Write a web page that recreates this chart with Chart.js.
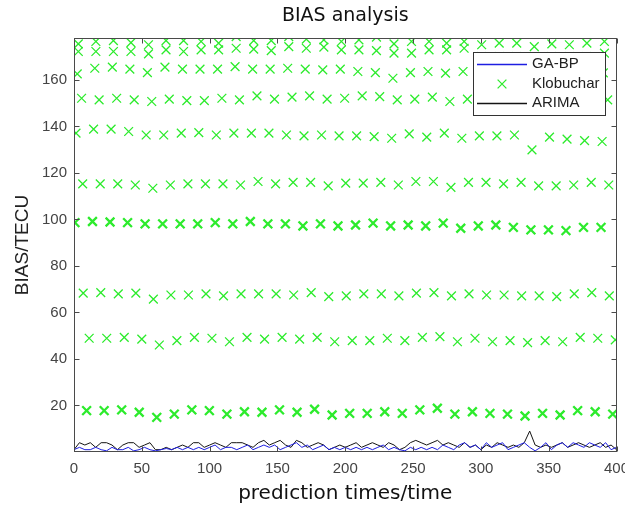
<!DOCTYPE html>
<html>
<head>
<meta charset="utf-8">
<title>BIAS analysis</title>
<script src="https://cdn.jsdelivr.net/npm/chart.js@4"></script>
<style>
  html, body { margin: 0; padding: 0; background: #fff; }
  canvas { display: block; }
</style>
</head>
<body>
<canvas id="chart" width="625" height="511"></canvas>
<script>
// axis ticks
const xTicks = [0, 50, 100, 150, 200, 250, 300, 350, 400];
const yTicks = [20, 40, 60, 80, 100, 120, 140, 160];

// GA-BP and ARIMA, one value every 4 prediction times (0..400)
const lineStep = 4;
const gabpValues = [
  1, 2, 1, 1, 2, 1, 0.5, 2, 1, 1, 2, 0.5, 1, 2, 1, 0.5,
  1, 1.5, 1, 2, 1, 2, 1, 2, 1, 2, 3, 1, 2, 2, 1,
  2, 3, 1, 2, 3, 2, 3, 1, 2, 3, 4, 2, 3, 1, 2, 3, 1, 2, 1, 2,
  1, 2, 1, 2, 1, 2, 3, 1, 2, 1, 0.5, 2, 1, 2, 1,
  2, 1, 3, 2, 1, 3, 4, 2, 3, 1, 4, 2, 3, 4, 1,
  2, 3, 4, 2, 0.5, 2, 4, 1, 3, 4, 2, 4, 3, 2, 4, 3, 2, 4, 1, 2
];
const arimaValues = [
  1, 4, 3, 4, 2, 4, 4, 3, 1, 3, 4, 4, 2, 3, 4, 1,
  1, 2, 1, 2, 3, 2, 4, 4, 2, 3, 4, 3, 2, 4, 4,
  4, 3, 2, 4, 5, 3, 4, 5, 3, 2, 5, 4, 2, 3, 4, 3, 1, 2, 3, 2,
  3, 4, 2, 3, 4, 3, 2, 4, 3, 1, 2, 4, 5, 4, 3,
  4, 5, 3, 4, 3, 2, 4, 2, 3, 1, 3, 2, 4, 3, 2,
  3, 2, 4, 9, 3, 2, 3, 2, 3, 4, 2, 3, 4, 3, 2, 3, 4, 2, 3, 1
];

// Klobuchar markers, one row per band, spaced klobStep apart from each row's start
const klobStep = 12.93;
const klobStarts = [9.3, 11.2, 6.8, 0.7, 6.4, 1.5, 5.6, 2.4, 3.2, 3.2];
const klobRow17 = [17.8, 17.8, 18.1, 17.1, 14.9, 16.3, 18.1, 17.8, 16.3, 17.3, 17.1, 18.1, 17.1, 18.4, 15.9,
  16.6, 16.6, 17.3, 16.6, 18.1, 18.8, 16.3, 17.3, 16.6, 16.3, 15.5, 16.6, 15.9, 17.8, 17.3, 16.3];
const klobRow48 = [48.9, 48.9, 49.3, 48.5, 46.0, 47.9, 49.3, 48.9, 47.4, 49.3, 48.5, 49.3, 48.5, 49.3, 47.4,
  47.9, 47.9, 48.9, 47.9, 49.3, 49.6, 47.4, 48.9, 47.4, 47.9, 47.0, 47.9, 47.4, 49.3, 48.9, 48.2];
const klobRow67 = [68.3, 68.5, 68.0, 68.3, 65.7, 67.5, 67.5, 68.0, 67.1, 68.0, 68.0, 68.0, 67.5, 68.5, 66.8,
  67.1, 68.0, 68.0, 67.1, 68.3, 68.5, 67.1, 68.0, 67.5, 67.5, 67.1, 67.1, 66.8, 68.0, 68.5, 67.1];
const klobRow98 = [98.6, 99.1, 98.9, 98.6, 98.1, 98.1, 98.1, 98.1, 98.6, 98.1, 99.1, 98.1, 98.1, 97.2, 98.1, 97.2,
  97.6, 98.4, 97.2, 97.6, 97.2, 98.4, 96.2, 97.2, 97.6, 96.6, 95.5, 95.5, 95.2, 96.6, 96.6];
const klobRow115 = [115.3, 115.3, 115.3, 114.8, 113.4, 114.8, 115.3, 115.3, 115.3, 114.8, 116.3, 115.3, 115.9, 115.9, 114.4,
  115.6, 115.6, 115.9, 114.8, 116.3, 116.3, 113.8, 115.9, 115.9, 115.3, 115.9, 114.4, 114.4, 114.8, 115.9, 114.8];
const klobRow137 = [137.1, 138.8, 138.8, 137.8, 136.3, 136.3, 137.1, 137.3, 136.3, 137.1, 137.1, 137.1, 136.3, 135.9, 136.3, 135.9,
  135.9, 135.6, 134.9, 136.8, 135.4, 137.1, 134.9, 135.9, 135.9, 136.3, 129.9, 135.4, 134.5, 133.9, 133.5];
const klobRow151 = [152.1, 151.4, 152.1, 151.4, 150.7, 151.7, 151.1, 151.1, 152.1, 151.4, 153.1, 151.7, 152.6, 153.1, 151.7,
  152.1, 153.1, 152.8, 151.4, 151.7, 152.6, 150.7, 151.7, 152.0, 151.2, 151.8, 151.0, 152.2, 151.3, 151.9, 151.4];
const klobRow164 = [162.6, 165.0, 165.5, 164.6, 163.1, 165.5, 164.6, 164.6, 164.6, 165.7, 164.6, 164.6, 165.0, 164.6, 164.3, 164.6,
  163.6, 163.1, 160.7, 163.1, 163.6, 162.9, 163.6, 163.5, 164.0, 163.0, 164.0, 163.5, 163.0, 164.0, 163.0];
const klobRow172 = [172.2, 172.2, 172.2, 172.2, 171.2, 172.9, 172.2, 172.9, 172.9, 173.6, 173.2, 172.6, 174.3, 173.6, 174.1,
  172.9, 172.9, 172.6, 171.5, 171.5, 172.9, 172.9, 173.6, 170.0, 170.0, 170.0, 170.0, 170.0, 170.0, 170.0, 171.5];
const klobRow176 = [175.5, 176.5, 176.9, 176.0, 175.1, 176.9, 176.9, 176.5, 175.8, 178.6, 176.9, 176.9, 178.6, 177.5, 177.2,
  176.5, 177.2, 178.4, 175.5, 176.5, 176.5, 175.8, 176.5, 175.1, 175.8, 175.8, 174.3, 175.5, 175.1, 175.8, 176.5];
const klobRows = [klobRow17, klobRow48, klobRow67, klobRow98, klobRow115, klobRow137, klobRow151, klobRow164, klobRow172, klobRow176];
const klobBoldRows = [0, 3];

const GREEN = 'rgb(45,235,45)';
const BLUE = 'rgb(30,30,225)';
const BLACK = '#141414';

const linePoints = (vals) => vals.map((v, i) => ({ x: i * lineStep, y: v }));

const klobDatasets = klobRows.map((row, r) => ({
  label: 'Klobuchar',
  data: row.map((v, k) => ({ x: klobStarts[r] + k * klobStep, y: v })),
  showLine: false,
  pointStyle: 'crossRot',
  pointRadius: 6.2,
  pointHoverRadius: 6.2,
  pointBorderColor: GREEN,
  pointBackgroundColor: 'rgba(0,0,0,0)',
  pointBorderWidth: klobBoldRows.includes(r) ? 2.3 : 1.3,
  clip: 0
}));

const framePlugin = {
  id: 'frame',
  beforeDraw(chart) {
    const ctx = chart.ctx;
    ctx.save();
    ctx.fillStyle = '#fff';
    ctx.fillRect(0, 0, chart.width, chart.height);
    ctx.restore();
  },
  afterDatasetsDraw(chart) {
    const { ctx, chartArea: a, scales } = chart;
    const L = Math.round(a.left) + 0.5, R = Math.round(a.right) - 0.5;
    const T = Math.round(a.top) + 0.5, B = Math.round(a.bottom) - 0.5;
    ctx.save();
    ctx.strokeStyle = '#4a4a4a';
    ctx.lineWidth = 1;
    ctx.strokeRect(L, T, R - L, B - T);
    ctx.beginPath();
    xTicks.forEach(v => {
      const px = Math.round(scales.x.getPixelForValue(v)) + 0.5;
      ctx.moveTo(px, B); ctx.lineTo(px, B - 5);
      ctx.moveTo(px, T); ctx.lineTo(px, T + 5);
    });
    yTicks.forEach(v => {
      const py = Math.round(scales.y.getPixelForValue(v)) + 0.5;
      ctx.moveTo(L, py); ctx.lineTo(L + 5, py);
      ctx.moveTo(R, py); ctx.lineTo(R - 5, py);
    });
    ctx.stroke();

    // legend box
    const lx = 473.5, ly = 52.5, lw = 132, lh = 63;
    ctx.fillStyle = '#fff';
    ctx.fillRect(lx, ly, lw, lh);
    ctx.strokeStyle = '#333';
    ctx.strokeRect(lx, ly, lw, lh);
    ctx.font = '15px "Liberation Sans", Arial, sans-serif';
    ctx.textBaseline = 'middle';
    ctx.textAlign = 'left';
    const rows = [
      { text: 'GA-BP', y: 64, kind: 'line', color: BLUE },
      { text: 'Klobuchar', y: 84, kind: 'mark', color: GREEN },
      { text: 'ARIMA', y: 103, kind: 'line', color: BLACK }
    ];
    rows.forEach(item => {
      if (item.kind === 'line') {
        ctx.strokeStyle = item.color;
        ctx.lineWidth = 1.5;
        ctx.beginPath();
        ctx.moveTo(477, item.y + 0.5);
        ctx.lineTo(527, item.y + 0.5);
        ctx.stroke();
      } else {
        ctx.strokeStyle = item.color;
        ctx.lineWidth = 1.3;
        Chart.helpers.drawPoint(ctx, { pointStyle: 'crossRot', radius: 6.2, borderWidth: 1.3 }, 502, item.y);
      }
      ctx.fillStyle = '#222';
      ctx.fillText(item.text, 532, item.y);
    });
    ctx.restore();
  },
  afterDraw(chart) {
    const ctx = chart.ctx;
    const a = chart.chartArea;
    const cx = (a.left + a.right) / 2;
    ctx.save();
    ctx.fillStyle = '#111';
    ctx.textAlign = 'center';
    ctx.textBaseline = 'alphabetic';
    ctx.font = '19px "DejaVu Sans", Verdana, sans-serif';
    ctx.fillText('BIAS analysis', cx, 21);
    ctx.font = '20px "DejaVu Sans", Verdana, sans-serif';
    ctx.textBaseline = 'middle';
    ctx.fillText('prediction times/time', cx, 494);
    ctx.translate(23, (a.top + a.bottom) / 2);
    ctx.rotate(-Math.PI / 2);
    ctx.font = '19px "Liberation Sans", Arial, sans-serif';
    ctx.fillStyle = '#222';
    ctx.fillText('BIAS/TECU', 0, 0);
    ctx.restore();
  }
};

const ctx = document.getElementById('chart').getContext('2d');
new Chart(ctx, {
  type: 'scatter',
  data: {
    datasets: [
      ...klobDatasets,
      {
        label: 'GA-BP',
        data: linePoints(gabpValues),
        showLine: true,
        borderColor: BLUE,
        borderWidth: 1,
        pointRadius: 0,
        tension: 0
      },
      {
        label: 'ARIMA',
        data: linePoints(arimaValues),
        showLine: true,
        borderColor: BLACK,
        borderWidth: 1,
        pointRadius: 0,
        tension: 0
      }
    ]
  },
  options: {
    responsive: false,
    animation: false,
    devicePixelRatio: 1,
    events: [],
    layout: { padding: { top: 38, right: 6, left: 0, bottom: 0 } },
    plugins: {
      legend: { display: false },
      title: { display: false },
      tooltip: { enabled: false }
    },
    scales: {
      x: {
        type: 'linear',
        min: 0,
        max: 400,
        grid: { display: false, drawTicks: false },
        border: { display: false },
        ticks: {
          stepSize: 50,
          padding: 8,
          maxRotation: 0,
          color: '#444',
          font: { family: '"Liberation Sans", Arial, sans-serif', size: 15 }
        },
        afterBuildTicks: (s) => { s.ticks = xTicks.map(v => ({ value: v })); },
        afterFit: (s) => { s.height = 59; s.paddingLeft = 0; s.paddingRight = 0; }
      },
      y: {
        type: 'linear',
        min: 0,
        max: 178,
        grid: { display: false, drawTicks: false },
        border: { display: false },
        ticks: {
          padding: 7,
          color: '#444',
          font: { family: '"Liberation Sans", Arial, sans-serif', size: 15 }
        },
        afterBuildTicks: (s) => { s.ticks = yTicks.map(v => ({ value: v })); },
        afterFit: (s) => { s.width = 74; s.paddingTop = 0; s.paddingBottom = 0; }
      }
    }
  },
  plugins: [framePlugin]
});
</script>
</body>
</html>
